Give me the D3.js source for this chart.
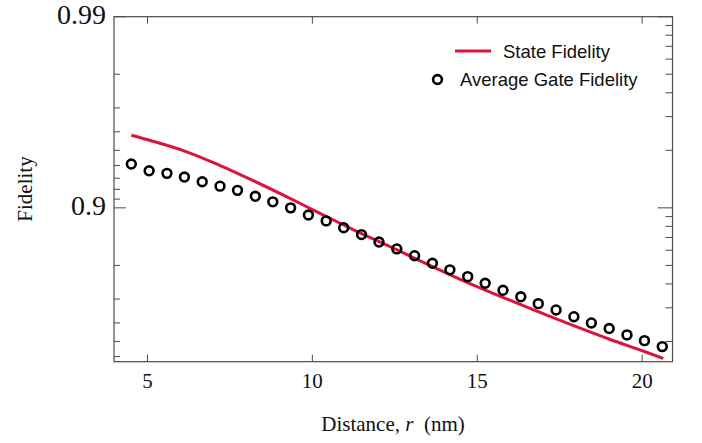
<!DOCTYPE html>
<html>
<head>
<meta charset="utf-8">
<script src="https://cdn.jsdelivr.net/npm/d3@7"></script>
<style>
  body { margin: 0; background: #fff; }
  .tick-label { font-family: "Liberation Serif", "Times New Roman", serif; fill: #111; }
  .legend text { font-family: "Liberation Sans", Arial, sans-serif; font-size: 18.5px; fill: #111; }
</style>
</head>
<body>
<svg id="chart" width="702" height="443"></svg>
<script>
// distance r (nm) for the state fidelity curve
var stateR = [4.51, 5.16, 6.19, 7.19, 8.19, 9.23, 10.23, 11.22, 12.57,
              13.63, 14.69, 15.78, 16.87, 17.94, 19.03, 20.09, 20.64];
var stateF = [0.9583, 0.9552, 0.9491, 0.9401, 0.9282, 0.9124, 0.8932, 0.8704, 0.8340,
              0.7975, 0.7545, 0.7057, 0.6496, 0.5852, 0.5118, 0.4339, 0.3863];

// average gate fidelity points
var gateR = [4.51, 5.05, 5.59, 6.12, 6.66, 7.20, 7.73, 8.27, 8.80, 9.34,
             9.88, 10.42, 10.95, 11.49, 12.02, 12.56, 13.10, 13.64, 14.17, 14.71,
             15.24, 15.78, 16.32, 16.85, 17.39, 17.93, 18.46, 19.00, 19.54, 20.07, 20.61];
var gateF = [0.941, 0.936, 0.934, 0.931, 0.927, 0.923, 0.919, 0.913, 0.907, 0.900,
             0.891, 0.883, 0.873, 0.862, 0.849, 0.836, 0.822, 0.805, 0.789, 0.771,
             0.752, 0.730, 0.708, 0.683, 0.658, 0.629, 0.600, 0.572, 0.538, 0.505, 0.468];

var xTicks = [5, 10, 15, 20];
var yMajor = [0.99, 0.9];
var yMajorLabels = ["0.99", "0.9"];
var yMinor = [0.98, 0.97, 0.96, 0.95, 0.94, 0.93, 0.92, 0.91, 0.8, 0.7, 0.6, 0.5, 0.4];
var legendLabels = ["State Fidelity", "Average Gate Fidelity"];

var red = "#dc143c";
var frameColor = "#4a4a4a";

var svg = d3.select("#chart");
var margin = {top: 16.7, right: 29.5, bottom: 81.3, left: 114};
var width = 702 - margin.left - margin.right,
    height = 443 - margin.top - margin.bottom;

// fidelity is plotted on a log scale of the infidelity 1 - F
function nl(f) { return -Math.log10(1 - f); }

var x = d3.scaleLinear().domain([3.985, 20.92]).range([0, width]);
var yv = d3.scaleLinear().domain([nl(0.362), nl(0.99)]).range([height, 0]);
var y = function(f) { return yv(nl(f)); };

var g = svg.append("g")
    .attr("transform", "translate(" + margin.left + "," + margin.top + ")");

// frame
g.append("rect")
    .attr("width", width)
    .attr("height", height)
    .attr("fill", "none")
    .attr("stroke", frameColor)
    .attr("stroke-width", 1.2);

// bottom and top ticks
xTicks.forEach(function(t) {
  g.append("line").attr("x1", x(t)).attr("x2", x(t)).attr("y1", height).attr("y2", height - 7)
      .attr("stroke", frameColor);
  g.append("line").attr("x1", x(t)).attr("x2", x(t)).attr("y1", 0).attr("y2", 7)
      .attr("stroke", frameColor);
  g.append("text")
      .attr("class", "tick-label")
      .attr("x", x(t))
      .attr("y", height + 26.5)
      .attr("text-anchor", "middle")
      .style("font-size", "21px")
      .text(t);
});

// left ticks
yMajor.forEach(function(f, i) {
  g.append("line").attr("x1", 0).attr("x2", 12).attr("y1", y(f)).attr("y2", y(f))
      .attr("stroke", frameColor);
  g.append("text")
      .attr("class", "tick-label")
      .attr("x", -8)
      .attr("y", y(f) + 7.5)
      .attr("text-anchor", "end")
      .style("font-size", "28px")
      .text(yMajorLabels[i]);
});
yMinor.forEach(function(f) {
  g.append("line").attr("x1", 0).attr("x2", 6).attr("y1", y(f)).attr("y2", y(f))
      .attr("stroke", frameColor);
});

// right ticks: mirrored minor positions (1 - 1/k and 1 - 0.1/k)
var rightMinor = [];
d3.range(2, 10).forEach(function(k) { rightMinor.push(1 - 1 / k, 1 - 0.1 / k); });
yMajor.forEach(function(f) {
  g.append("line").attr("x1", width).attr("x2", width - 15).attr("y1", y(f)).attr("y2", y(f))
      .attr("stroke", frameColor);
});
rightMinor.forEach(function(f) {
  if (f < 0.362) return;
  g.append("line").attr("x1", width).attr("x2", width - 7).attr("y1", y(f)).attr("y2", y(f))
      .attr("stroke", frameColor);
});

// state fidelity curve
var line = d3.line()
    .x(function(d) { return x(d[0]); })
    .y(function(d) { return y(d[1]); })
    .curve(d3.curveMonotoneX);

g.append("path")
    .datum(d3.zip(stateR, stateF))
    .attr("fill", "none")
    .attr("stroke", red)
    .attr("stroke-width", 3)
    .attr("d", line);

// gate fidelity circles
g.selectAll("circle.gate")
    .data(d3.zip(gateR, gateF))
    .enter().append("circle")
      .attr("class", "gate")
      .attr("cx", function(d) { return x(d[0]); })
      .attr("cy", function(d) { return y(d[1]); })
      .attr("r", 4.4)
      .attr("fill", "none")
      .attr("stroke", "#000")
      .attr("stroke-width", 2.6);

// axis titles
svg.append("text")
    .attr("class", "tick-label")
    .attr("x", 393)
    .attr("y", 431)
    .attr("text-anchor", "middle")
    .style("font-size", "21px")
    .html('Distance, <tspan font-style="italic">r</tspan>\u00a0 (nm)');

svg.append("text")
    .attr("class", "tick-label")
    .attr("transform", "translate(32,189) rotate(-90)")
    .attr("text-anchor", "middle")
    .style("font-size", "21px")
    .text("Fidelity");

// legend
var legend = svg.append("g").attr("class", "legend");
legend.append("line")
    .attr("x1", 455).attr("x2", 491).attr("y1", 51).attr("y2", 51)
    .attr("stroke", red).attr("stroke-width", 3);
legend.append("text").attr("x", 503).attr("y", 58).text(legendLabels[0]);
legend.append("circle")
    .attr("cx", 437.5).attr("cy", 79.5).attr("r", 4.4)
    .attr("fill", "none").attr("stroke", "#000").attr("stroke-width", 2.6);
legend.append("text").attr("x", 460).attr("y", 86).text(legendLabels[1]);
</script>
</body>
</html>
